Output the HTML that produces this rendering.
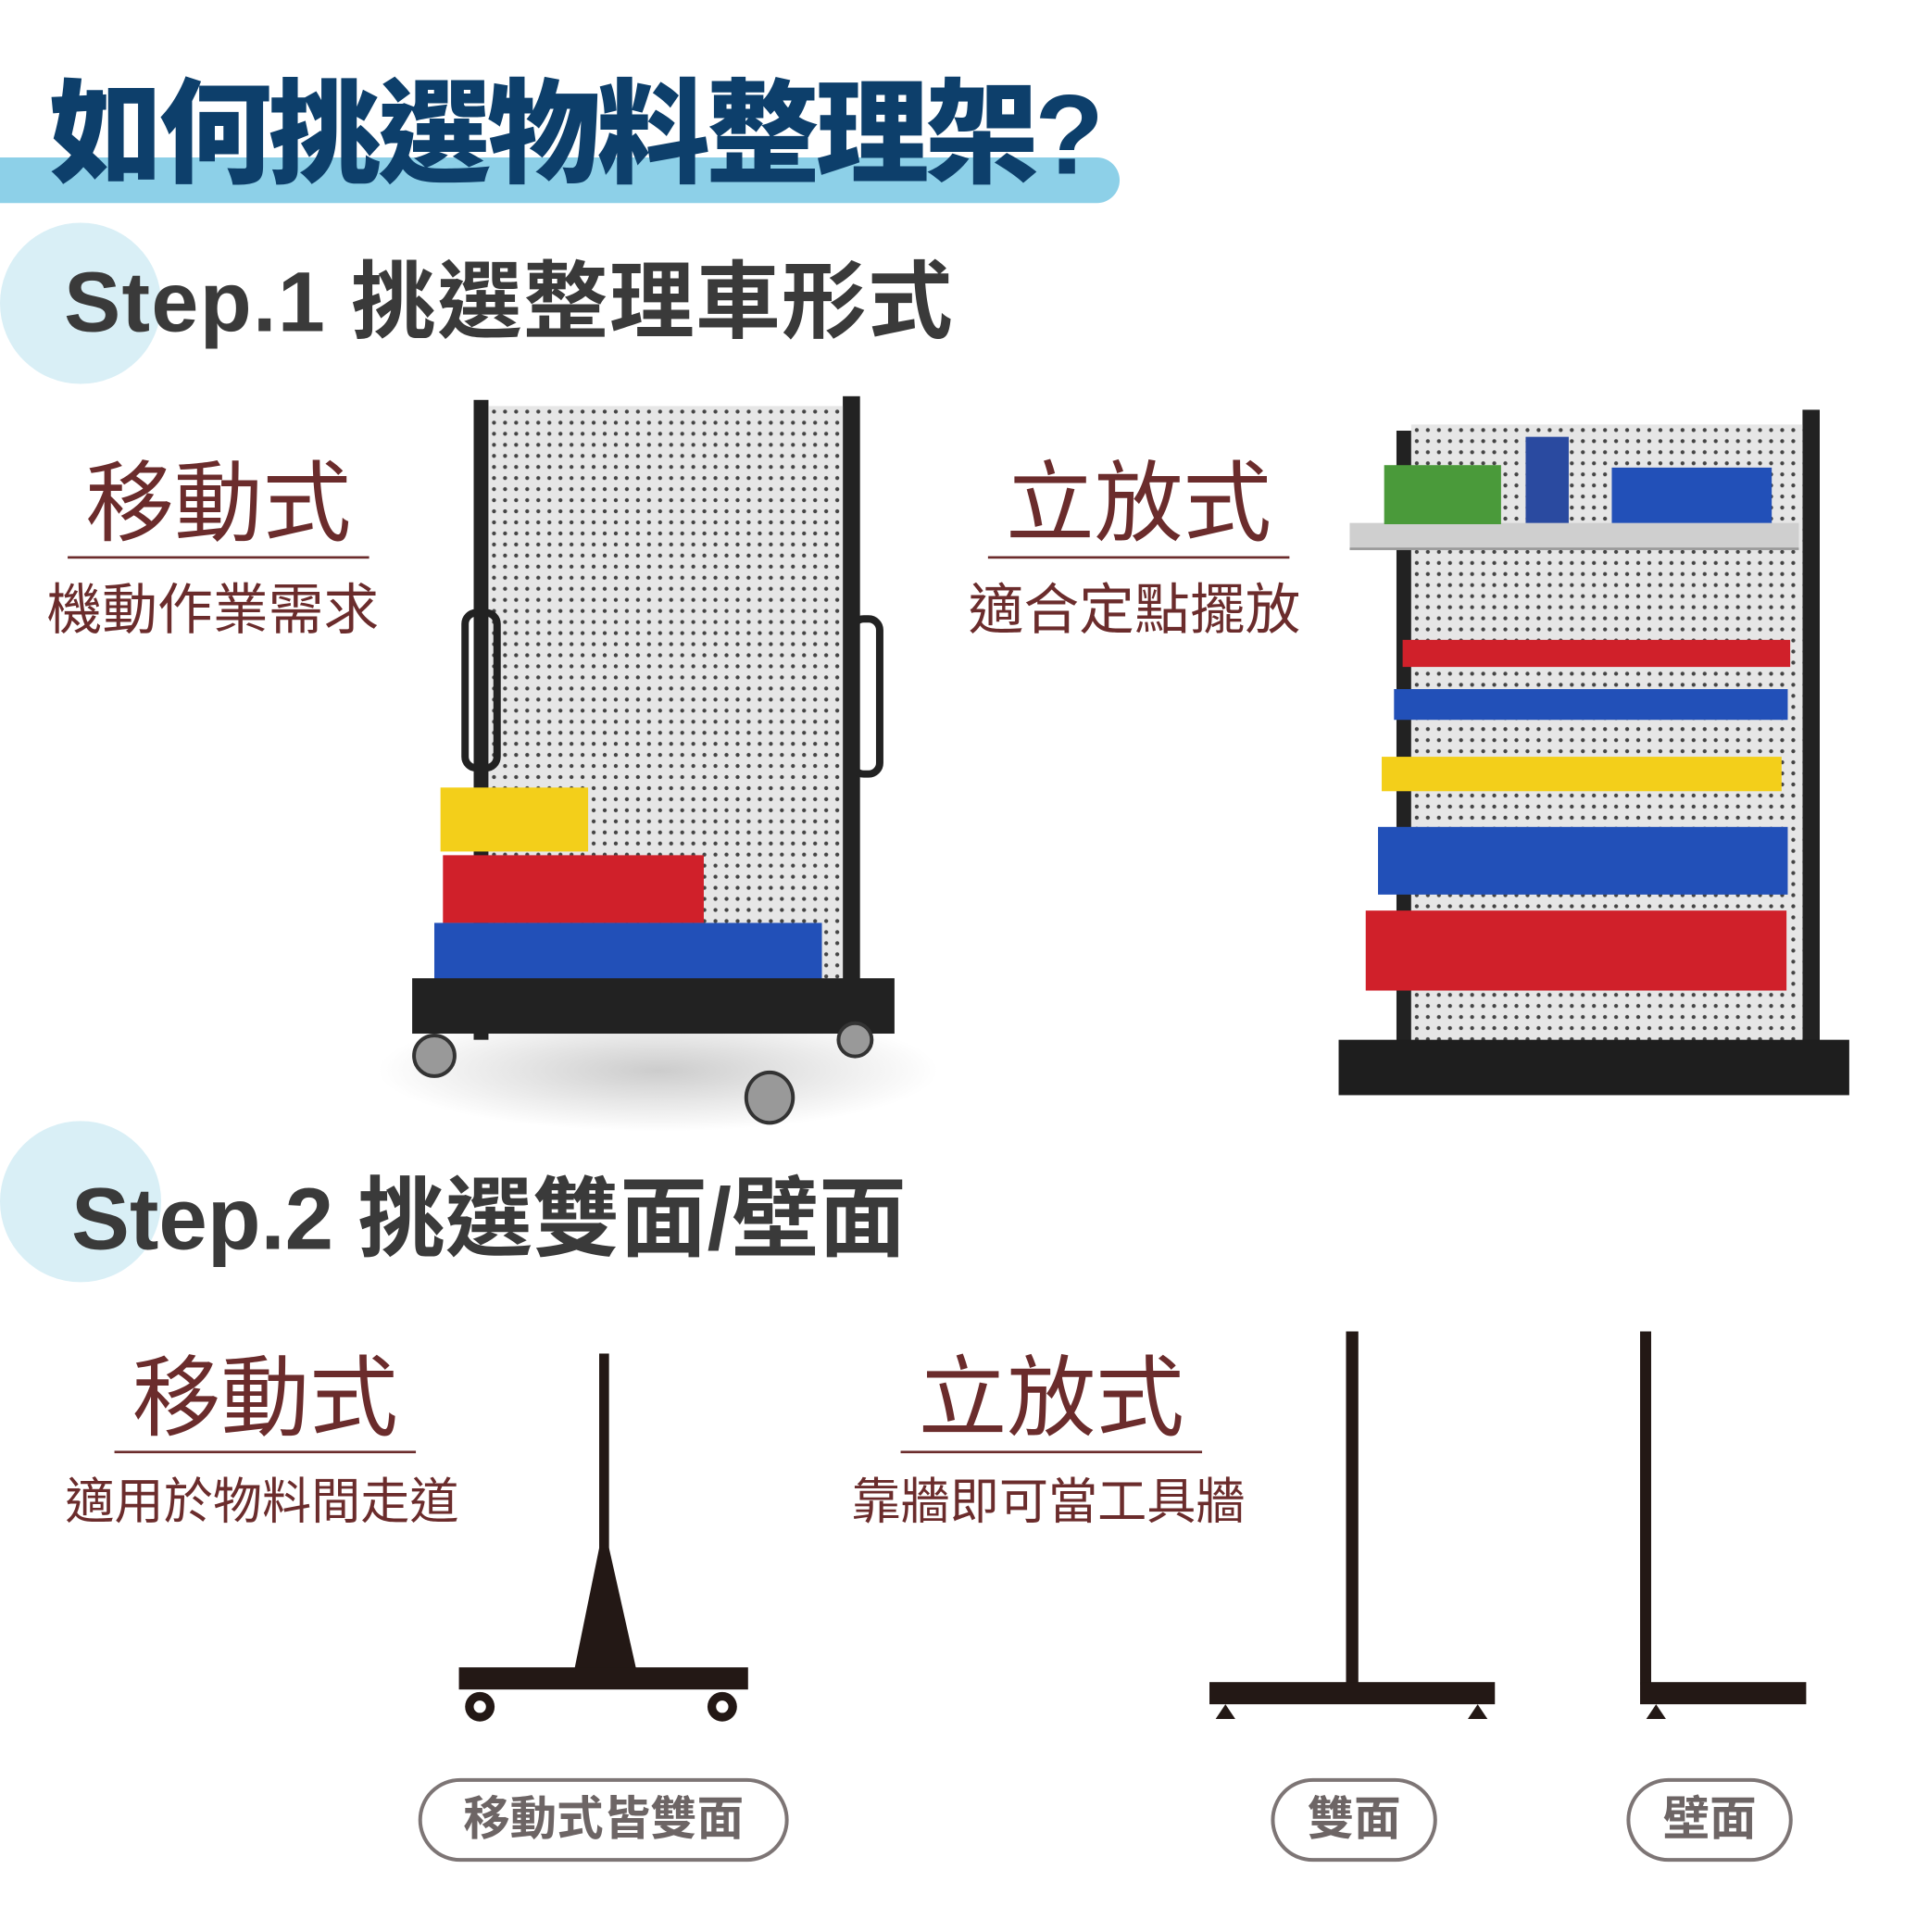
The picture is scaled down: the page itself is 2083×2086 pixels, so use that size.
<!DOCTYPE html>
<html><head><meta charset="utf-8"><style>
html,body{margin:0;padding:0;background:#fff;}
body{width:2083px;height:2083px;overflow:hidden;position:relative;}
#s{position:absolute;left:0;top:0;width:1570px;height:1570px;transform:scale(1.3286);transform-origin:0 0;font-family:"Liberation Sans","Noto Sans CJK TC",sans-serif;}
.a{position:absolute;white-space:nowrap;}
.br{color:#6b2c2c;}
.pill{position:absolute;border:3px solid #7d7575;border-radius:36px;color:#6d6565;font-size:38px;font-weight:bold;text-align:center;box-sizing:border-box;}
.peg{background-color:#e6e6e6;background-image:radial-gradient(#444 1.4px,transparent 1.8px);background-size:9px 9px;}
</style></head><body><div id="s">
<div class="a" style="left:0;top:128px;width:910px;height:37px;background:#8dd0e8;border-radius:0 30px 30px 0;"></div>
<div class="a" style="left:40px;top:55px;font-size:92px;font-weight:900;color:#0d3f6b;letter-spacing:-3px;line-height:110px;">如何挑選物料整理架?</div>
<div class="a" style="left:0;top:181px;width:131px;height:131px;border-radius:50%;background:#d9eff6;"></div>
<div class="a" style="left:52px;top:205px;font-size:69px;font-weight:bold;color:#3a3a3a;line-height:82px;letter-spacing:1px;">Step.1 挑選整理車形式</div>
<div class="a br" style="left:55px;top:365px;width:245px;text-align:center;font-size:72px;line-height:90px;">移動式</div>
<div class="a" style="left:55px;top:452px;width:245px;height:2px;background:#6b2c2c;"></div>
<div class="a br" style="left:38px;top:468px;font-size:45px;line-height:56px;">機動作業需求</div>
<div class="a br" style="left:803px;top:365px;width:245px;text-align:center;font-size:72px;line-height:90px;">立放式</div>
<div class="a" style="left:803px;top:452px;width:245px;height:2px;background:#6b2c2c;"></div>
<div class="a br" style="left:787px;top:468px;font-size:45px;line-height:56px;">適合定點擺放</div>
<!-- left rack -->
<div class="a" style="left:305px;top:820px;width:460px;height:100px;background:radial-gradient(ellipse at center,#ccc 0%,#fff 70%);"></div>
<div class="a" style="left:385px;top:325px;width:12px;height:520px;background:#222;"></div>
<div class="a" style="left:685px;top:322px;width:14px;height:505px;background:#222;"></div>
<div class="a peg" style="left:397px;top:330px;width:288px;height:480px;"></div>
<div class="a" style="left:375px;top:495px;width:20px;height:120px;border:6px solid #222;border-radius:12px;"></div>
<div class="a" style="left:690px;top:500px;width:16px;height:120px;border:6px solid #222;border-radius:12px;"></div>
<div class="a" style="left:358px;top:640px;width:120px;height:52px;background:#f3cf1a;"></div>
<div class="a" style="left:360px;top:695px;width:212px;height:55px;background:#d0202a;"></div>
<div class="a" style="left:353px;top:750px;width:315px;height:78px;background:#2250b8;"></div>
<div class="a" style="left:335px;top:795px;width:392px;height:45px;background:#222;"></div>
<div class="a" style="left:335px;top:840px;width:30px;height:30px;border-radius:50%;background:#999;border:3px solid #333;"></div>
<div class="a" style="left:605px;top:870px;width:35px;height:38px;border-radius:50%;background:#999;border:3px solid #333;"></div>
<div class="a" style="left:680px;top:830px;width:24px;height:24px;border-radius:50%;background:#999;border:3px solid #333;"></div>
<!-- right rack -->
<div class="a" style="left:1135px;top:350px;width:12px;height:500px;background:#222;"></div>
<div class="a" style="left:1465px;top:333px;width:14px;height:520px;background:#222;"></div>
<div class="a peg" style="left:1147px;top:345px;width:318px;height:510px;"></div>
<div class="a" style="left:1097px;top:425px;width:365px;height:20px;background:#cfcfcf;border-bottom:2px solid #999;"></div>
<div class="a" style="left:1125px;top:378px;width:95px;height:48px;background:#4a9a3a;"></div>
<div class="a" style="left:1240px;top:355px;width:35px;height:70px;background:#2a4aa0;"></div>
<div class="a" style="left:1310px;top:380px;width:130px;height:45px;background:#2250b8;"></div>
<div class="a" style="left:1140px;top:520px;width:315px;height:22px;background:#d0202a;"></div>
<div class="a" style="left:1133px;top:560px;width:320px;height:25px;background:#2250b8;"></div>
<div class="a" style="left:1123px;top:615px;width:325px;height:28px;background:#f3cf1a;"></div>
<div class="a" style="left:1120px;top:672px;width:333px;height:55px;background:#2250b8;"></div>
<div class="a" style="left:1110px;top:740px;width:342px;height:65px;background:#d0202a;"></div>
<div class="a" style="left:1088px;top:845px;width:415px;height:45px;background:#1e1e1e;"></div>
<div class="a" style="left:0;top:911px;width:131px;height:131px;border-radius:50%;background:#d9eff6;"></div>
<div class="a" style="left:58px;top:950px;font-size:71px;font-weight:bold;color:#3a3a3a;line-height:84px;">Step.2 挑選雙面/壁面</div>
<div class="a br" style="left:93px;top:1092px;width:245px;text-align:center;font-size:72px;line-height:90px;">移動式</div>
<div class="a" style="left:93px;top:1179px;width:245px;height:2px;background:#6b2c2c;"></div>
<div class="a br" style="left:53px;top:1195px;font-size:40px;line-height:52px;">適用於物料間走道</div>
<div class="a br" style="left:732px;top:1092px;width:245px;text-align:center;font-size:72px;line-height:90px;">立放式</div>
<div class="a" style="left:732px;top:1179px;width:245px;height:2px;background:#6b2c2c;"></div>
<div class="a br" style="left:692px;top:1195px;font-size:40px;line-height:52px;">靠牆即可當工具牆</div>
<svg class="a" style="left:0;top:0" width="1550" height="1550">
<g fill="#231815">
<rect x="487" y="1100" width="8" height="160"/>
<polygon points="487,1258 495,1258 517,1356 467,1356"/>
<rect x="373" y="1355" width="235" height="18"/>
<circle cx="390" cy="1387" r="12"/><circle cx="587" cy="1387" r="12"/>
<rect x="1094" y="1082" width="10" height="287"/>
<rect x="983" y="1367" width="232" height="18"/>
<polygon points="996,1385 988,1397 1004,1397"/><polygon points="1201,1385 1193,1397 1209,1397"/>
<rect x="1333" y="1082" width="9" height="287"/>
<rect x="1333" y="1367" width="135" height="18"/>
<polygon points="1346,1385 1338,1397 1354,1397"/>
</g>
<circle cx="390" cy="1387" r="5" fill="#fff"/><circle cx="587" cy="1387" r="5" fill="#fff"/>
</svg>
<div class="pill" style="left:340px;top:1445px;width:301px;height:68px;line-height:62px;">移動式皆雙面</div>
<div class="pill" style="left:1033px;top:1445px;width:135px;height:68px;line-height:62px;">雙面</div>
<div class="pill" style="left:1322px;top:1445px;width:135px;height:68px;line-height:62px;">壁面</div>
</div></body></html>
